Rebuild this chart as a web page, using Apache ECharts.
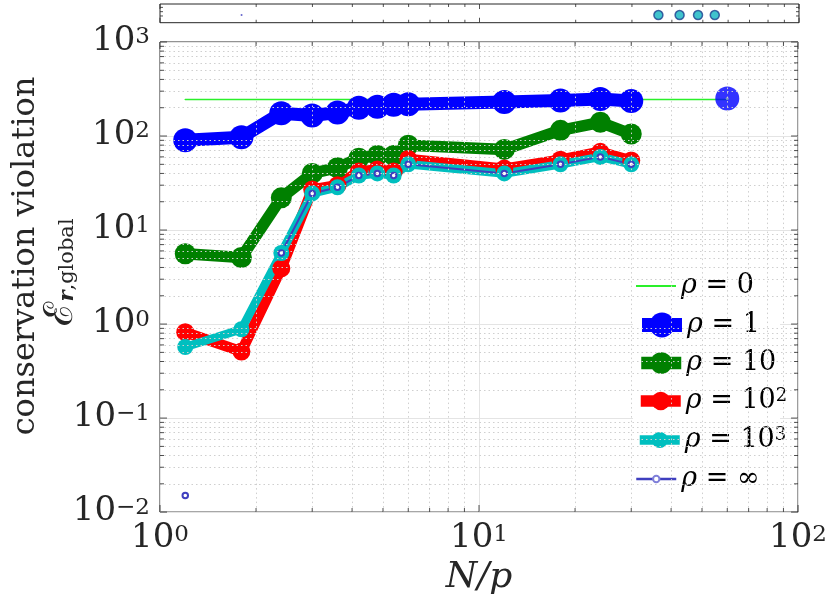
<!DOCTYPE html>
<html><head><meta charset="utf-8">
<script src="https://cdn.jsdelivr.net/npm/echarts@6/dist/echarts.min.js"></script>
<style>html,body{margin:0;padding:0;background:#fff}#c{width:830px;height:601px}</style>
</head><body><div id="c"></div>
<script>
// ---- data ----
const xN = [1.2, 1.8, 2.4, 3, 3.6, 4.2, 4.8, 5.4, 6, 12, 18, 24, 30];
const rho0X = [1.2, 1.8, 2.4, 3, 3.6, 4.2, 4.8, 5.4, 6, 12, 18, 24, 30, 60];
const rho0 = [245, 245, 245, 245, 245, 245, 245, 245, 245, 245, 245, 245, 245, 245];
const rho1 = [90, 97, 175, 165, 178, 200, 205, 215, 218, 230, 238, 248, 236];
const rho10 = [5.6, 5.1, 22, 40, 46, 58, 62, 62, 80, 72, 115, 140, 105];
const rho100 = [0.82, 0.51, 3.9, 27, 30, 42, 44, 42, 57, 45, 56, 68, 55];
const rho1000 = [0.57, 0.88, 5.7, 24.5, 28.5, 38, 40, 38, 50, 40, 50, 60, 50];
const rhoInf = [0.015, null, 5.7, 24.5, 28.5, 38, 40, 38, 50, 40, 50, 60, 50];
const extraX = [60];
const extraRho1 = [250];
const extraInf = [250];
const stripCircX = [36.3, 42.3, 48.3, 54.5];
const stripCircY = [0.41, 0.41, 0.41, 0.41];
const stripDotX = [1.8];
const stripDotY = [0.41];
const seriesNames = ['ρ=0', 'ρ=1', 'ρ=10', 'ρ=10^2', 'ρ=10^3', 'ρ=∞'];
const legendBase = ['0', '1', '10', '10', '10', '∞'];
const legendSup = ['', '', '', '2', '3', ''];
const xTickExp = {'1': '0', '10': '1', '100': '2'};
const yTickExp = {'-2': '−2', '-1': '−1', '0': '0', '1': '1', '2': '2', '3': '3'};
const stripYTicks = [0.36, 0.59, 0.82];

// ---- helpers ----
const FONT = 'DejaVu Serif';
const TXT = '#262626';
function pairs(xs, ys) { return xs.map((x, i) => [x, ys[i] == null ? '-' : ys[i]]); }
function decadesMinor(d0, d1) {
  const out = [];
  for (let d = d0; d < d1; d *= 10) for (let k = 2; k <= 9; k++) out.push(+(k * d).toPrecision(6));
  return out;
}
const xMajor = [1, 10, 100];
const yMajor = [0.01, 0.1, 1, 10, 100, 1000];
const xMinor = decadesMinor(1, 100);
const yMinor = decadesMinor(0.01, 1000);

function tickData(xs, ys, xmin, xmax, ymin, ymax) {
  const d = [];
  xs.forEach(([v, L]) => {
    d.push({value: [v, ymin], symbolSize: [1, L], symbolOffset: [0, -L / 2]});
    d.push({value: [v, ymax], symbolSize: [1, L], symbolOffset: [0, L / 2]});
  });
  ys.forEach(([v, L]) => {
    d.push({value: [xmin, v], symbolSize: [L, 1], symbolOffset: [L / 2, 0]});
    d.push({value: [xmax, v], symbolSize: [L, 1], symbolOffset: [-L / 2, 0]});
  });
  return d;
}
const mainTicks = tickData(
  xMajor.map(v => [v, 7]).concat(xMinor.map(v => [v, 4])),
  yMajor.map(v => [v, 7]).concat(yMinor.map(v => [v, 4])),
  1, 100, 0.01, 1000);
const stripTicks = tickData(
  xMajor.map(v => [v, 5]).concat(xMinor.map(v => [v, 3])),
  stripYTicks.map(v => [v, 3]),
  1, 100, 0, 1);

const tickRich = {
  b: {fontFamily: FONT, fontSize: 34, lineHeight: 32, color: TXT, padding: [7, 0, 0, 0], verticalAlign: 'bottom'},
  s: {fontFamily: FONT, fontSize: 23, lineHeight: 22, color: TXT, verticalAlign: 'top'}
};
const legRich = {
  i: {fontFamily: FONT, fontStyle: 'italic', fontSize: 27, lineHeight: 27, color: '#000', padding: [6, 0, 0, 0], verticalAlign: 'bottom'},
  n: {fontFamily: FONT, fontSize: 27, lineHeight: 27, color: '#000', padding: [6, 0, 0, 0], verticalAlign: 'bottom'},
  s: {fontFamily: FONT, fontSize: 18, lineHeight: 18, color: '#000', verticalAlign: 'top'}
};

const styles = [
  {color: '#2af02a', width: 1.5, size: 0, legH: 20, legW: 2},
  {color: '#0000ff', width: 13, size: 24, legH: 31, legW: 14},
  {color: '#008000', width: 11.5, size: 21, legH: 27, legW: 12.5},
  {color: '#ff0000', width: 10.5, size: 18, legH: 23, legW: 11.5},
  {color: '#00bfbf', width: 8.5, size: 16, legH: 20, legW: 9.5},
  {color: '#3f3fbf', width: 2, size: 5.5, legH: 8, legW: 2.5}
];
const legendCY = [285, 324, 362, 400, 439, 478];

const legends = seriesNames.map((nm, i) => {
  const st = styles[i];
  const lg = {
    left: 635, top: legendCY[i] - 18.5, padding: 0, itemGap: 0,
    itemWidth: 40, itemHeight: st.legH, selectedMode: false,
    data: [nm],
    formatter: () => '{i|ρ}{n| = ' + legendBase[i] + '}' + (legendSup[i] ? '{s|' + legendSup[i] + '}' : ''),
    textStyle: {rich: legRich, padding: [0, 0, 0, 0]},
    lineStyle: {width: st.legW, color: st.color, cap: 'butt'},
    itemStyle: {color: st.color, borderWidth: 0}
  };
  if (i === 0) lg.itemStyle = {color: 'rgba(0,0,0,0)', borderColor: 'rgba(0,0,0,0)', borderWidth: 0};
  if (i === 5) lg.itemStyle = {color: '#7f7fd9', borderColor: st.color, borderWidth: 2};
  return lg;
});

function lineSeries(i, xs, ys) {
  const st = styles[i];
  const s = {
    name: seriesNames[i], type: 'line', xAxisIndex: 0, yAxisIndex: 0,
    data: pairs(xs, ys), connectNulls: false, showAllSymbol: true,
    lineStyle: {color: st.color, width: st.width, join: 'round', cap: 'round', opacity: 1},
    itemStyle: {color: st.color, borderColor: st.color, borderWidth: 0, opacity: 1}, z: 3,
    emphasis: {disabled: true}
  };
  if (i === 0) { s.symbol = 'none'; }
  else if (i === 5) { s.symbol = 'emptyCircle'; s.symbolSize = st.size; s.itemStyle = {color: st.color, borderWidth: 2, borderColor: st.color}; }
  else { s.symbol = 'circle'; s.symbolSize = st.size; }
  return s;
}

const option = {
  animation: false,
  backgroundColor: '#fff',
  grid: [
    {left: 160, right: 31, top: 42, bottom: 88, show: true, borderColor: TXT, borderWidth: 1, backgroundColor: '#fff'},
    {left: 160, right: 31, top: 4, height: 18.7, show: true, borderColor: TXT, borderWidth: 1, backgroundColor: '#fff'}
  ],
  xAxis: [
    {type: 'log', logBase: 10, min: 1, max: 100, gridIndex: 0,
     axisLine: {show: false}, axisTick: {show: false},
     axisLabel: {margin: 11, formatter: v => '{b|10}{s|' + xTickExp[String(Math.round(v))] + '}', rich: tickRich},
     splitLine: {show: true, lineStyle: {color: '#e4e4e4', width: 1}},
     name: 'N/p', nameLocation: 'middle', nameGap: 47,
     nameTextStyle: {fontFamily: FONT, fontStyle: 'italic', fontSize: 36, color: TXT}},
    {type: 'log', logBase: 10, min: 1, max: 100, gridIndex: 1,
     axisLine: {show: false}, axisTick: {show: false}, axisLabel: {show: false}, splitLine: {show: false}}
  ],
  yAxis: [
    {type: 'log', logBase: 10, min: 0.01, max: 1000, gridIndex: 0,
     axisLine: {show: false}, axisTick: {show: false},
     axisLabel: {margin: 10, formatter: v => '{b|10}{s|' + yTickExp[String(Math.round(Math.log10(v)))] + '}', rich: tickRich},
     splitLine: {show: true, lineStyle: {color: '#e4e4e4', width: 1}}},
    {type: 'value', min: 0, max: 1, gridIndex: 1,
     axisLine: {show: false}, axisTick: {show: false}, axisLabel: {show: false}, splitLine: {show: false}}
  ],
  legend: legends,
  graphic: [
    {type: 'rect', shape: {x: 633, y: 267, width: 147, height: 224}, style: {fill: '#fff'}, z: 3, silent: true},
    {type: 'text', x: 26, y: 256, rotation: Math.PI / 2,
     style: {text: 'conservation violation', font: '32px "DejaVu Serif"', fill: TXT, align: 'center', verticalAlign: 'middle'}},
    {type: 'text', x: 60, y: 272, rotation: Math.PI / 2,
     style: {text: '{e|ℰ}{r|r}{g|,global}', align: 'center', verticalAlign: 'middle',
       rich: {
         e: {fontFamily: FONT, fontSize: 40, lineHeight: 36, fill: TXT, verticalAlign: 'top', padding: [0, 0, 6, 0]},
         r: {fontFamily: FONT, fontSize: 21, lineHeight: 21, fontWeight: 'bold', fontStyle: 'italic', fill: TXT, verticalAlign: 'bottom'},
         g: {fontFamily: FONT, fontSize: 21, lineHeight: 21, fill: TXT, verticalAlign: 'bottom'}
       }}}
  ],
  series: [
    {name: 'minorGrid', type: 'line', xAxisIndex: 0, yAxisIndex: 0, data: [], z: 1, silent: true,
     markLine: {silent: true, symbol: ['none', 'none'], label: {show: false}, animation: false,
       lineStyle: {color: '#cfcfcf', width: 1, type: [1.5, 3]},
       data: xMinor.map(v => ({xAxis: v})).concat(yMinor.map(v => ({yAxis: v})))}},
    lineSeries(0, rho0X, rho0),
    lineSeries(1, xN, rho1),
    {name: 'rho1extra', type: 'scatter', data: pairs(extraX, extraRho1), symbol: 'circle', symbolSize: styles[1].size,
     itemStyle: {color: styles[1].color, borderWidth: 0}, z: 3},
    lineSeries(2, xN, rho10),
    lineSeries(3, xN, rho100),
    lineSeries(4, xN, rho1000),
    lineSeries(5, xN, rhoInf),
    {name: 'infExtra', type: 'scatter', data: pairs(extraX, extraInf), symbol: 'circle', symbolSize: 3,
     itemStyle: {color: '#8fb0b8', borderWidth: 0}, z: 3},
    {name: 'ticks', type: 'scatter', xAxisIndex: 0, yAxisIndex: 0, data: mainTicks, symbol: 'rect', clip: false,
     itemStyle: {color: TXT}, z: 5, silent: true},
    {name: 'stripTicks', type: 'scatter', xAxisIndex: 1, yAxisIndex: 1, data: stripTicks, symbol: 'rect', clip: false,
     itemStyle: {color: TXT}, z: 5, silent: true},
    {name: 'stripCircles', type: 'scatter', xAxisIndex: 1, yAxisIndex: 1, data: pairs(stripCircX, stripCircY),
     symbol: 'circle', symbolSize: 9, itemStyle: {color: '#10b4c0', borderColor: '#1d3f8f', borderWidth: 1.5}, z: 4},
    {name: 'stripDot', type: 'scatter', xAxisIndex: 1, yAxisIndex: 1, data: pairs(stripDotX, stripDotY),
     symbol: 'circle', symbolSize: 2, itemStyle: {color: '#3f3fbf'}, z: 4}
  ]
};
const chart = echarts.init(document.getElementById('c'), null, {renderer: 'canvas'});
chart.setOption(option);
</script></body></html>
